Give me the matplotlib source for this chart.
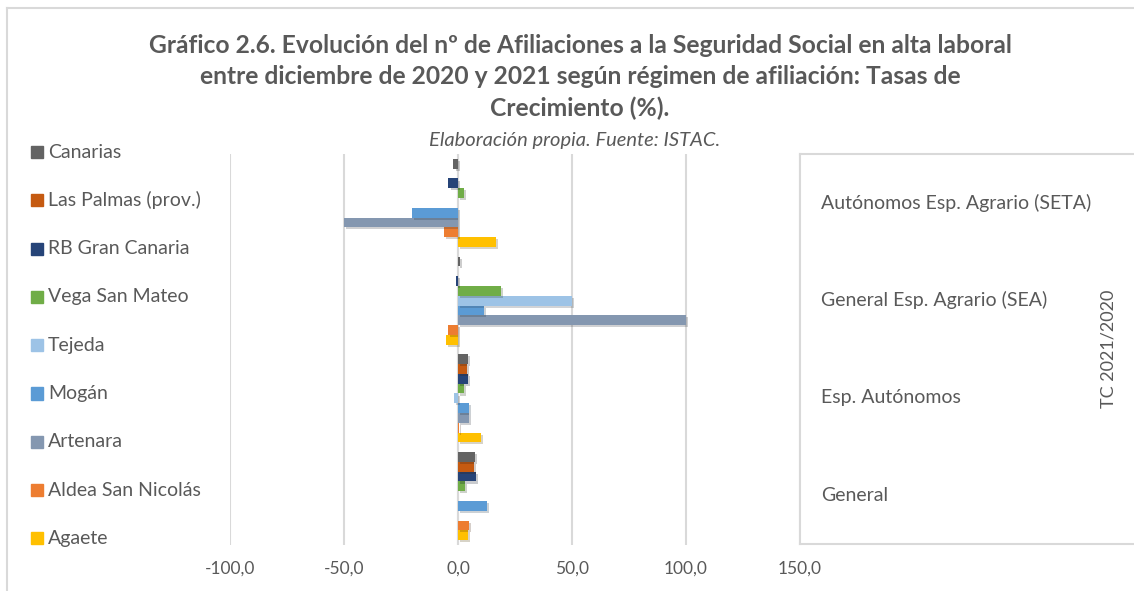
import matplotlib.pyplot as plt
import matplotlib.patheffects as pe
from matplotlib.patches import Rectangle
from matplotlib.lines import Line2D
import numpy as np

plt.rcParams['font.family'] = ['Lato', 'DejaVu Sans']

# Categories, bottom to top
categorias = ['General', 'Esp. Autónomos', 'General Esp. Agrario (SEA)',
              'Autónomos Esp. Agrario (SETA)']

# Series, in plotting order (bottom bar of each group first)
series = ['Agaete', 'Aldea San Nicolás', 'Artenara', 'Mogán', 'Tejeda',
          'Vega San Mateo', 'RB Gran Canaria', 'Las Palmas (prov.)', 'Canarias']

agaete = [4.2, 10.2, -5.2, 16.5]
aldea = [4.8, 0.5, -4.4, -6.1]
artenara = [0.0, 4.8, 100.0, -50.0]
mogan = [12.7, 4.8, 11.2, -20.1]
tejeda = [0.0, -1.7, 50.0, 0.0]
vega = [3.1, 2.6, 18.8, 2.5]
rb_gc = [7.9, 4.4, -0.8, -4.2]
las_palmas = [7.1, 4.1, 0.0, 0.0]
canarias = [7.4, 4.4, 1.0, -2.0]

valores = [agaete, aldea, artenara, mogan, tejeda, vega, rb_gc, las_palmas, canarias]
colores = ['#FFC000', '#ED7D31', '#8497B0', '#5B9BD5', '#9DC3E6',
           '#70AD47', '#264478', '#C55A11', '#636363']

xticks = [-100, -50, 0, 50, 100, 150]

W, H = 1134, 591
fig = plt.figure(figsize=(W / 100, H / 100), dpi=100)
txt = '#595959'
grid_c = '#D9D9D9'


def fx(px):
    return px / W


def fy(py):
    return 1 - py / H


# outer chart border (only top/left visible in the crop)
fig.add_artist(Line2D([fx(7), fx(7)], [fy(8), 0], color=grid_c, lw=1.5))
fig.add_artist(Line2D([fx(7), 1], [fy(8), fy(8)], color=grid_c, lw=1.5))

# main plot area
top, bot = 154, 545
ax = fig.add_axes([fx(230), fy(bot), fx(800) - fx(230), fy(top) - fy(bot)])
ax.set_xlim(-100, 150)
ax.set_ylim(-0.5, len(categorias) - 0.5)

h = 0.1
pos = np.arange(len(categorias))
shadow = [pe.SimplePatchShadow(offset=(1.5, -1.5), alpha=0.22), pe.Normal()]
for j, (vals, col) in enumerate(zip(valores, colores)):
    bars = ax.barh(pos + (j - 4) * h, vals, height=h, color=col, zorder=3)
    for b in bars:
        b.set_path_effects(shadow)

ax.set_xticks(xticks)
ax.set_xticklabels([f'{v:.1f}'.replace('.', ',') for v in xticks])
ax.tick_params(axis='x', length=0, pad=11, labelsize=12.5, labelcolor=txt)
ax.set_yticks([])
ax.grid(axis='x', color=grid_c, lw=1.5, zorder=0)
ax.axvline(0, color=grid_c, lw=1.5, zorder=1)
for s in ax.spines.values():
    s.set_visible(False)

# category label box on the right
lab = fig.add_axes([fx(800), fy(544), 1 - fx(800), fy(154) - fy(544)])
lab.set_xlim(0, 1)
lab.set_ylim(ax.get_ylim())
lab.set_xticks([])
lab.set_yticks([])
for k in ['top', 'bottom', 'left']:
    lab.spines[k].set_color(grid_c)
    lab.spines[k].set_linewidth(1.5)
lab.spines['right'].set_visible(False)
for i, c in enumerate(categorias):
    lab.text((821 - 800) / (W - 800), i, c, ha='left', va='center',
             fontsize=14, color=txt)
lab.text((1108 - 800) / (W - 800), 1.5, 'TC 2021/2020', rotation=90,
         ha='center', va='center', fontsize=13, color=txt)

# legend (top entry is the last series)
for i, (name, col) in enumerate(zip(series[::-1], colores[::-1])):
    yc = 152 + i * 48.3
    fig.add_artist(Rectangle((fx(31), fy(yc + 6)), fx(12), fy(yc - 6) - fy(yc + 6),
                             color=col, transform=fig.transFigure))
    fig.text(fx(48), fy(yc), name, ha='left', va='center', fontsize=14, color=txt)

# titles
fig.text(fx(580), fy(77),
         'Gráfico 2.6. Evolución del nº de Afiliaciones a la Seguridad Social en alta laboral\n'
         'entre diciembre de 2020 y 2021 según régimen de afiliación: Tasas de\n'
         'Crecimiento (%).',
         ha='center', va='center', fontsize=17.7, fontweight='bold', color=txt,
         linespacing=1.42)
fig.text(fx(575), fy(141), 'Elaboración propia. Fuente: ISTAC.', ha='center',
         va='center', fontsize=14.5, fontstyle='italic', color=txt)

fig.savefig('out.png', dpi=100)
